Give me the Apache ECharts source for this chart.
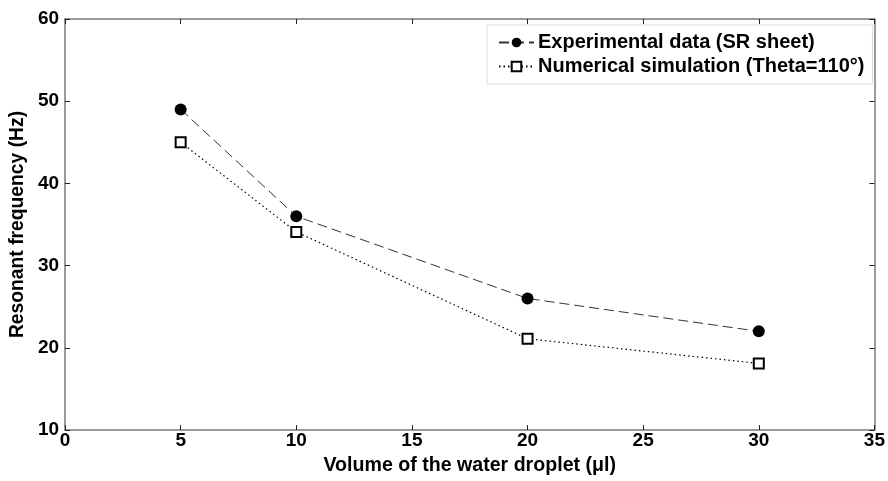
<!DOCTYPE html>
<html>
<head>
<meta charset="utf-8">
<script src="https://cdn.jsdelivr.net/npm/echarts@6/dist/echarts.min.js"></script>
<style>
  html, body { margin: 0; padding: 0; background: #fff; }
  #chart { width: 888px; height: 481px; }
</style>
</head>
<body>
<div id="chart"></div>
<script>
// Droplet volume (µl) and measured / simulated resonant frequencies (Hz)
const volumes = [5, 10, 20, 30];
const experimental = [49, 36, 26, 22];
const simulation = [45, 34.1, 21.1, 18.1];
const seriesNames = ['Experimental data (SR sheet)', 'Numerical simulation (Theta=110°)'];

const font = 'Liberation Sans, Arial, sans-serif';
const frameColor = '#7a7a7a';

const chart = echarts.init(document.getElementById('chart'), null, { renderer: 'canvas' });

const text = (size) => ({ fontFamily: font, fontWeight: 'bold', fontSize: size, color: '#000' });

// Plain framing axis: line + inward ticks, no labels
const boxAxis = (extra) => Object.assign({
  type: 'value',
  axisLine: { show: true, onZero: false, lineStyle: { color: frameColor, width: 1.5 } },
  axisTick: { show: true, inside: true, length: 5, lineStyle: { color: '#222', width: 1 } },
  splitLine: { show: false },
  axisLabel: { show: false }
}, extra);

chart.setOption({
  animation: false,
  backgroundColor: '#fff',
  grid: { left: 63, right: 13, top: 19, bottom: 48 },
  legend: {
    left: 487,
    top: 25,
    orient: 'vertical',
    itemGap: 0,
    itemWidth: 35,
    itemHeight: 12,
    padding: [5.5, 8, 5.5, 11],
    borderColor: '#dcdcdc',
    borderWidth: 1,
    backgroundColor: '#fff',
    textStyle: Object.assign({ lineHeight: 24, padding: [0, 0, 0, -1] }, text(20)),
    data: seriesNames
  },
  xAxis: [
    boxAxis({
      min: 0, max: 35, interval: 5,
      position: 'bottom',
      name: 'Volume of the water droplet (\u03bcl)',
      nameLocation: 'middle',
      nameGap: 26,
      nameTextStyle: text(19.6),
      axisLabel: Object.assign({ show: true, margin: 1 }, text(19))
    }),
    boxAxis({ min: 0, max: 35, interval: 5, position: 'top' })
  ],
  yAxis: [
    boxAxis({
      min: 10, max: 60, interval: 10,
      position: 'left',
      name: 'Resonant frequency (Hz)',
      nameLocation: 'middle',
      nameGap: 35,
      nameTextStyle: text(19.3),
      axisLabel: Object.assign({ show: true, margin: 6 }, text(19))
    }),
    boxAxis({ min: 10, max: 60, interval: 10, position: 'right' })
  ],
  series: [
    {
      name: seriesNames[0],
      type: 'line',
      data: volumes.map((v, i) => [v, experimental[i]]),
      symbol: 'circle',
      symbolSize: 12,
      itemStyle: { color: '#000' },
      lineStyle: { color: '#333', width: 1, type: [10, 5] }
    },
    {
      name: seriesNames[1],
      type: 'line',
      data: volumes.map((v, i) => [v, simulation[i]]),
      symbol: 'rect',
      symbolSize: 10,
      itemStyle: { color: '#fff', borderColor: '#000', borderWidth: 2 },
      lineStyle: { color: '#000', width: 1.2, type: [1.5, 3] }
    }
  ]
});
</script>
</body>
</html>
